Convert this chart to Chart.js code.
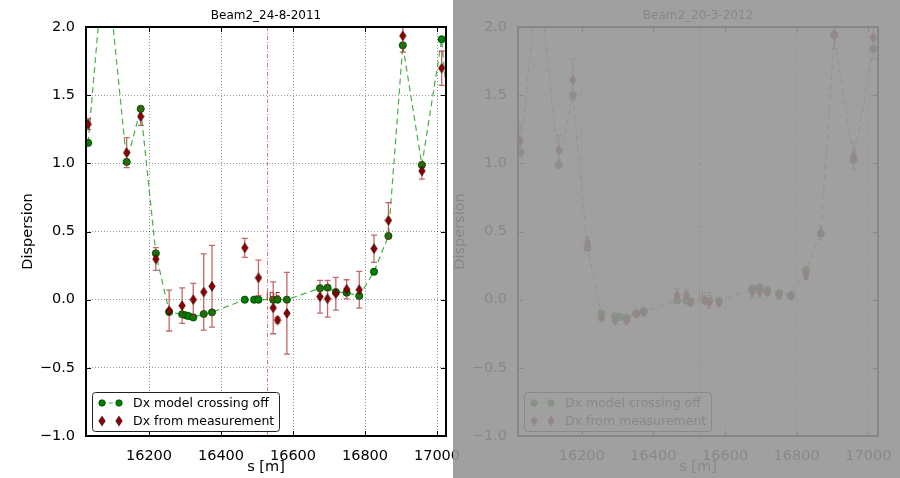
<!DOCTYPE html>
<html><head><meta charset="utf-8">
<script src="https://cdn.jsdelivr.net/npm/chart.js@4.4.1/dist/chart.umd.min.js"></script>
<style>
html,body{margin:0;padding:0;background:#fff;width:900px;height:478px;overflow:hidden;}
#cR{position:absolute;left:432px;top:0;}
#cL{position:absolute;left:0;top:0;}
#shade{position:absolute;left:453px;top:0;width:447px;height:478px;background:rgba(150,150,150,0.9);}
</style></head><body>
<canvas id="cR" width="468" height="478"></canvas>
<canvas id="cL" width="470" height="478"></canvas>
<div id="shade"></div>
<script>
// ---------- data: left panel (Beam2_24-8-2011) ----------
const titleA = "Beam2_24-8-2011";
const sModelA  = [16031, 16078, 16138, 16177, 16219, 16256, 16292, 16302, 16310, 16323, 16352, 16375, 16466, 16492, 16504, 16545, 16557, 16583, 16675, 16696, 16719, 16749, 16784, 16825, 16865, 16905, 16958, 17013, 17040];
const dxModelA = [1.15, 2.59, 1.01, 1.40, 0.34, -0.09, -0.107, -0.115, -0.12, -0.13, -0.105, -0.093, 0.0, 0.0, 0.0, 0.0, 0.0, 0.0, 0.084, 0.088, 0.056, 0.051, 0.027, 0.205, 0.467, 1.866, 0.988, 1.91, 1.1];
const sMeasA   = [16031, 16138, 16177, 16219, 16256, 16292, 16323, 16352, 16375, 16466, 16504, 16545, 16557, 16583, 16675, 16696, 16719, 16749, 16784, 16825, 16865, 16905, 16958, 17013];
const dxMeasA  = [1.287, 1.078, 1.343, 0.298, -0.08, -0.044, 0.0, 0.056, 0.098, 0.38, 0.16, -0.06, -0.15, -0.10, 0.022, 0.007, 0.044, 0.076, 0.073, 0.374, 0.582, 1.935, 0.944, 1.698];
const errMeasA = [0.04, 0.11, 0.065, 0.083, 0.15, 0.13, 0.12, 0.28, 0.30, 0.07, 0.13, 0.19, 0.02, 0.30, 0.12, 0.135, 0.12, 0.07, 0.135, 0.10, 0.13, 0.12, 0.06, 0.126];

// ---------- data: right panel (Beam2_20-3-2012) ----------
const titleB = "Beam2_20-3-2012";
const sModelB  = [16028, 16079, 16136, 16175, 16216, 16255, 16293, 16307, 16325, 16352, 16373, 16466, 16492, 16504, 16544, 16555, 16583, 16676, 16697, 16718, 16751, 16784, 16826, 16867, 16905, 16959, 17014];
const dxModelB = [1.082, 2.38, 0.987, 1.50, 0.381, -0.103, -0.122, -0.127, -0.134, -0.10, -0.086, -0.007, -0.007, -0.01, -0.007, -0.012, -0.007, 0.083, 0.088, 0.068, 0.049, 0.029, 0.215, 0.484, 1.942, 1.026, 1.84];
const sMeasB   = [16028, 16136, 16175, 16216, 16255, 16293, 16325, 16352, 16373, 16466, 16492, 16504, 16544, 16555, 16583, 16676, 16697, 16718, 16751, 16784, 16826, 16867, 16905, 16959, 17014];
const dxMeasB  = [1.165, 1.097, 1.612, 0.418, -0.134, -0.151, -0.154, -0.103, -0.09, 0.032, 0.034, -0.022, -0.005, -0.024, -0.024, 0.054, 0.059, 0.054, 0.032, 0.027, 0.178, 0.489, 1.942, 1.055, 1.923];
const errMeasB = [0.12, 0.11, 0.15, 0.04, 0.02, 0.02, 0.02, 0.02, 0.03, 0.05, 0.04, 0.02, 0.02, 0.04, 0.02, 0.04, 0.04, 0.02, 0.02, 0.02, 0.03, 0.05, 0.10, 0.10, 0.16];

// ---------- axes ----------
const xTicks = [16200, 16400, 16600, 16800, 17000];
const yTicks = [-1.0, -0.5, 0.0, 0.5, 1.0, 1.5, 2.0];
const ipS = 16527;
const ipLabel = "IP5";
const legendLabels = ["Dx model crossing off", "Dx from measurement"];
const FONT = "'DejaVu Sans', sans-serif";

function diamondImg(){
  const c = document.createElement('canvas'); c.width = 8; c.height = 11;
  const g = c.getContext('2d');
  g.beginPath(); g.moveTo(4,0.8); g.lineTo(7.2,5.5); g.lineTo(4,10.2); g.lineTo(0.8,5.5); g.closePath();
  g.fillStyle = '#8b0000'; g.fill();
  g.strokeStyle = '#3a0000'; g.lineWidth = 0.8; g.stroke();
  return c;
}
const DIAMOND = diamondImg();
const GREEN = '#008000', GREEN_EDGE = '#003d00', GREEN_LINE = 'rgba(40,160,40,0.85)';
const ERR_COL = 'rgba(170,40,40,0.7)';

const decoPlugin = {
  id: 'deco',
  beforeDatasetsDraw(chart){
    const {ctx, chartArea:a, scales:{x}} = chart;
    ctx.save();
    ctx.beginPath(); ctx.rect(a.left, a.top, a.right-a.left, a.bottom-a.top); ctx.clip();
    const px = x.getPixelForValue(ipS);
    ctx.strokeStyle = 'rgba(205,80,80,0.75)'; ctx.lineWidth = 1;
    ctx.setLineDash([4,2,1,2]);
    ctx.beginPath(); ctx.moveTo(Math.round(px)+0.5, a.top); ctx.lineTo(Math.round(px)+0.5, a.bottom); ctx.stroke();
    ctx.restore();
  },
  afterDatasetsDraw(chart){
    const {ctx, scales:{x,y}} = chart;
    ctx.save();
    ctx.fillStyle = '#a52a2a'; ctx.font = '10px ' + FONT;
    ctx.textAlign = 'left'; ctx.textBaseline = 'alphabetic';
    ctx.fillText(ipLabel, x.getPixelForValue(ipS) - 1, y.getPixelForValue(0) + 0.5);
    ctx.restore();
  },
  beforeDatasetDraw(chart, args){
    const ds = chart.data.datasets[args.index];
    if (!ds.errors) return;
    const {ctx, chartArea:a, scales:{x,y}} = chart;
    ctx.save();
    ctx.beginPath(); ctx.rect(a.left, a.top, a.right-a.left, a.bottom-a.top); ctx.clip();
    ctx.strokeStyle = ERR_COL; ctx.lineWidth = 1.3;
    ds.data.forEach((p, i) => {
      const e = ds.errors[i];
      const px = x.getPixelForValue(p.x);
      const y1 = y.getPixelForValue(p.y + e), y2 = y.getPixelForValue(p.y - e);
      ctx.beginPath();
      ctx.moveTo(px, y1); ctx.lineTo(px, y2);
      ctx.moveTo(px-3, y1); ctx.lineTo(px+3, y1);
      ctx.moveTo(px-3, y2); ctx.lineTo(px+3, y2);
      ctx.stroke();
    });
    ctx.restore();
  },
  afterDraw(chart){
    const {ctx, chartArea:a, scales:{x,y}} = chart;
    ctx.save();
    // inward ticks
    ctx.strokeStyle = '#000'; ctx.lineWidth = 1;
    ctx.beginPath();
    xTicks.forEach(v => {
      const px = Math.round(x.getPixelForValue(v)) + 0.5;
      ctx.moveTo(px, a.bottom); ctx.lineTo(px, a.bottom - 5);
      ctx.moveTo(px, a.top); ctx.lineTo(px, a.top + 5);
    });
    yTicks.forEach(v => {
      const py = Math.round(y.getPixelForValue(v)) + 0.5;
      ctx.moveTo(a.left, py); ctx.lineTo(a.left + 5, py);
      ctx.moveTo(a.right, py); ctx.lineTo(a.right - 5, py);
    });
    ctx.stroke();
    // frame
    ctx.lineWidth = 2; ctx.strokeStyle = '#000';
    ctx.strokeRect(a.left, a.top, a.right - a.left, a.bottom - a.top);
    // title
    ctx.fillStyle = '#000'; ctx.font = '12px ' + FONT;
    ctx.textAlign = 'center'; ctx.textBaseline = 'alphabetic';
    ctx.fillText(chart.options.plugins.deco.title, (a.left + a.right) / 2, 19);
    // legend
    const bx = a.left + 6, by = a.bottom - 44, bw = 187, bh = 39;
    ctx.lineWidth = 1; ctx.strokeStyle = '#222'; ctx.fillStyle = '#fff';
    ctx.beginPath();
    if (ctx.roundRect) ctx.roundRect(bx + 0.5, by + 0.5, bw, bh, 3); else ctx.rect(bx + 0.5, by + 0.5, bw, bh);
    ctx.fill(); ctx.stroke();
    const r1 = by + 11, r2 = by + 29, m1 = bx + 10, m2 = bx + 27;
    ctx.strokeStyle = GREEN_LINE; ctx.lineWidth = 1.2; ctx.setLineDash([4,3]);
    ctx.beginPath(); ctx.moveTo(m1, r1); ctx.lineTo(m2, r1); ctx.stroke();
    ctx.setLineDash([]);
    [m1, m2].forEach(mx => {
      ctx.beginPath(); ctx.arc(mx, r1, 3.2, 0, Math.PI * 2);
      ctx.fillStyle = GREEN; ctx.fill(); ctx.strokeStyle = GREEN_EDGE; ctx.lineWidth = 0.8; ctx.stroke();
      ctx.drawImage(DIAMOND, mx - 4, r2 - 5.5);
    });
    ctx.fillStyle = '#000'; ctx.font = '12.5px ' + FONT;
    ctx.textAlign = 'left'; ctx.textBaseline = 'middle';
    ctx.fillText(legendLabels[0], bx + 41, r1 + 0.5);
    ctx.fillText(legendLabels[1], bx + 41, r2 + 0.5);
    ctx.restore();
  }
};

function makeChart(id, title, sModel, dxModel, sMeas, dxMeas, errMeas, xMin, xMax, padRight){
  const modelPts = sModel.map((s, i) => ({x: s, y: dxModel[i]}));
  const measPts = sMeas.map((s, i) => ({x: s, y: dxMeas[i]}));
  return new Chart(document.getElementById(id), {
    type: 'scatter',
    data: {
      datasets: [
        {
          label: legendLabels[0], data: modelPts, showLine: true, order: 2,
          borderColor: GREEN_LINE, borderWidth: 1.2, borderDash: [6,4],
          pointRadius: 3.6, pointBackgroundColor: GREEN, pointBorderColor: GREEN_EDGE, pointBorderWidth: 0.8,
          pointHoverRadius: 3.6
        },
        {
          label: legendLabels[1], data: measPts, showLine: false, order: 1,
          pointStyle: DIAMOND, pointRadius: 4, errors: errMeas
        }
      ]
    },
    options: {
      responsive: false, animation: false, devicePixelRatio: 1,
      layout: { padding: { left: 0, right: padRight, top: 27, bottom: 0 } },
      plugins: { legend: { display: false }, tooltip: { enabled: false }, deco: { title: title } },
      scales: {
        x: {
          type: 'linear', min: xMin, max: xMax,
          afterBuildTicks: s => { s.ticks = xTicks.map(v => ({value: v})); },
          afterFit: s => { s.height = 42; s.paddingLeft = 0; s.paddingRight = 0; },
          ticks: { color: '#000', font: { family: FONT, size: 14.5 }, padding: 12, maxRotation: 0, autoSkip: false,
                   callback: v => String(v) },
          grid: { color: 'rgba(0,0,0,0.4)', lineWidth: 1, drawTicks: false },
          border: { display: false, dash: [1,2] },
          title: { display: true, text: 's [m]', color: '#000', font: { family: FONT, size: 14.5 }, padding: { top: 0, bottom: 2 } }
        },
        y: {
          type: 'linear', min: -1, max: 2,
          afterBuildTicks: s => { s.ticks = yTicks.map(v => ({value: v})); },
          afterFit: s => { s.width = 86; s.paddingTop = 0; s.paddingBottom = 0; },
          ticks: { color: '#000', font: { family: FONT, size: 14.5 }, padding: 11, autoSkip: false,
                   callback: v => (v < 0 ? '\u2212' : '') + Math.abs(v).toFixed(1) },
          grid: { color: 'rgba(0,0,0,0.4)', lineWidth: 1, drawTicks: false },
          border: { display: false, dash: [1,2] },
          title: { display: true, text: 'Dispersion', color: '#000', font: { family: FONT, size: 14.5 }, padding: { top: 20, bottom: 0 } }
        }
      }
    },
    plugins: [decoPlugin]
  });
}

makeChart('cR', titleB, sModelB, dxModelB, sMeasB, dxMeasB, errMeasB, 16022, 17027, 22);
makeChart('cL', titleA, sModelA, dxModelA, sMeasA, dxMeasA, errMeasA, 16025, 17025, 24);
</script></body></html>
